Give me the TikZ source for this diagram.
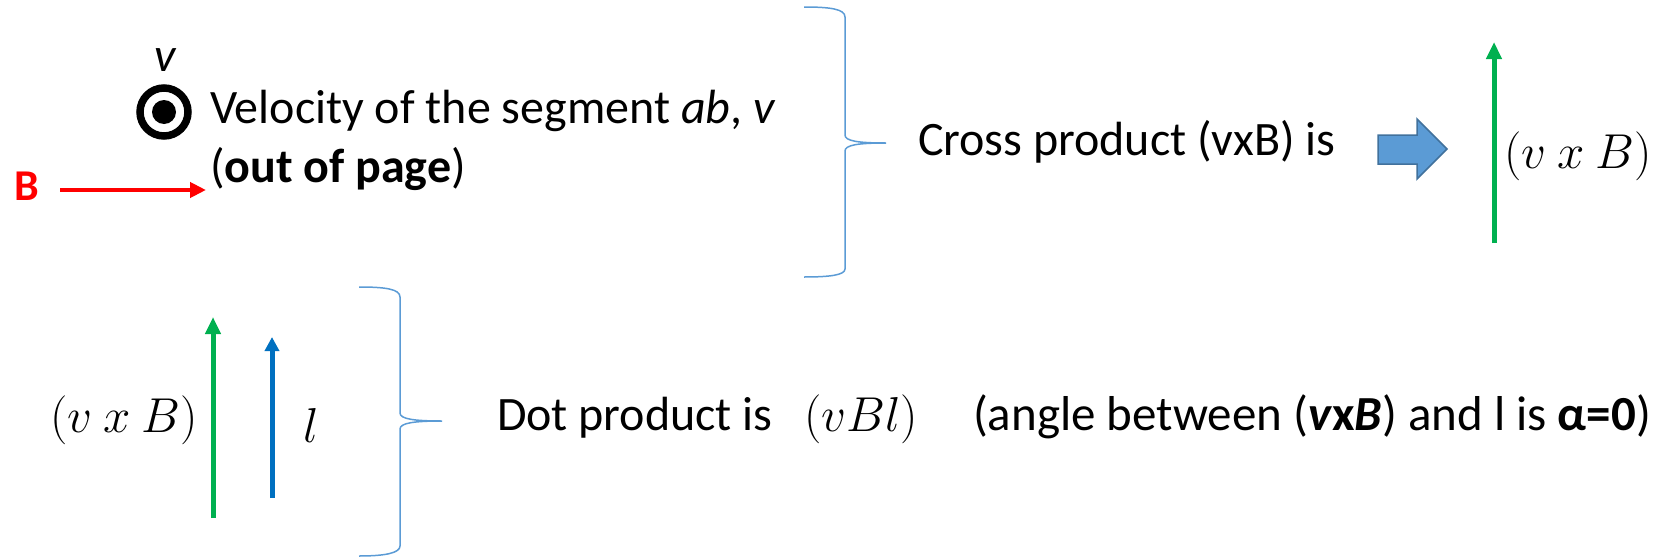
\RequirePackage{fix-cm}
\documentclass[tikz,border=0pt]{standalone}
\usepackage{fontspec}
\setmainfont{Carlito}
\usetikzlibrary{arrows.meta}
\definecolor{bracecol}{HTML}{5B9BD5}
\definecolor{blkfill}{HTML}{5B9BD5}
\definecolor{blkdraw}{HTML}{41719C}
\definecolor{vgreen}{HTML}{00B050}
\definecolor{lblue}{HTML}{0070C0}
\definecolor{bred}{HTML}{FF0000}
\tikzset{
  txt/.style={inner sep=0pt, outer sep=0pt, font=\fontsize{48}{58}\selectfont},
  mth/.style={inner sep=0pt, outer sep=0pt, font=\fontsize{49}{59}\selectfont},
  brace/.style={draw=bracecol, line width=1.5pt},
  greenvec/.style={draw=vgreen, line width=5pt, -{Triangle[length=17pt,width=15pt]}},
  bluevec/.style={draw=lblue, line width=5pt, -{Triangle[length=14pt,width=14pt]}},
  redvec/.style={draw=bred, line width=4pt, -{Triangle[length=16pt,width=15pt]}},
}
\begin{document}
\begin{tikzpicture}[x=1pt,y=-1pt]
\useasboundingbox (0,0) rectangle (1670,557);
% out-of-page symbol
\coordinate (dot) at (164,112);
\draw[line width=7.5pt] (dot) circle (24pt);
\fill (dot) circle (12pt);
\node[txt, anchor=base] (vlab) at (166,71) {\textit{v}};
\node[txt, anchor=base west] (vel) at (210,123) {Velocity of the segment \textit{ab}, \textit{v}};
\node[txt, anchor=base west] (out) at (210,182) {(\textbf{out of page})};
% B field
\node[txt, anchor=base, font=\fontsize{44}{52}\selectfont\bfseries, text=bred] (Blab) at (27,200) {B};
\coordinate (Bs) at (60,190);
\coordinate (Be) at (206,190);
\draw[redvec] (Bs) -- (Be);
% brace 1
\draw[brace] (804,7) .. controls (830,7) and (845,9) .. (845,17)
  -- (845,135) .. controls (845,141) and (858,143) .. (886,143)
  .. controls (858,143) and (845,145) .. (845,151)
  -- (845,269) .. controls (845,275) and (830,277) .. (804,277);
\node[txt, anchor=base west] (cross) at (918,155) {Cross product (vxB) is};
% block arrow
\draw[draw=blkdraw, fill=blkfill, line width=1.5pt]
  (1378,135) -- (1417,135) -- (1417,119) -- (1447,149) -- (1417,179)
  -- (1417,164) -- (1378,164) -- cycle;
% green result vector
\coordinate (g1s) at (1494,243);
\coordinate (g1e) at (1494,42);
\draw[greenvec] (g1s) -- (g1e);
\node[mth, anchor=base west] (vxb1) at (1504,168) {$(v\:x\:B)$};
% bottom row
\node[mth, anchor=base west] (vxb2) at (50,432) {$(v\:x\:B)$};
\coordinate (g2s) at (213,518);
\coordinate (g2e) at (213,317);
\draw[greenvec] (g2s) -- (g2e);
\coordinate (ls) at (272,498);
\coordinate (le) at (272,337);
\draw[bluevec] (ls) -- (le);
\node[mth, anchor=base west] (llab) at (303,442) {$l$};
% brace 2
\draw[brace] (359,287) .. controls (385,287) and (400,289) .. (400,297)
  -- (400,413) .. controls (400,419) and (414,421) .. (442,421)
  .. controls (414,421) and (400,423) .. (400,429)
  -- (400,546) .. controls (400,553) and (385,556) .. (359,556);
\node[txt, anchor=base west] (dotp) at (497,430) {Dot product is};
\node[mth, anchor=base west] (vbl) at (804,431) {$(vBl)$};
\node[txt, anchor=base west, font=\fontsize{49}{59}\selectfont] (ang) at (973,430) {(angle between (\textbf{\textit{v}x\textit{B}}) and l is \textbf{α=0})};
\end{tikzpicture}
\end{document}
